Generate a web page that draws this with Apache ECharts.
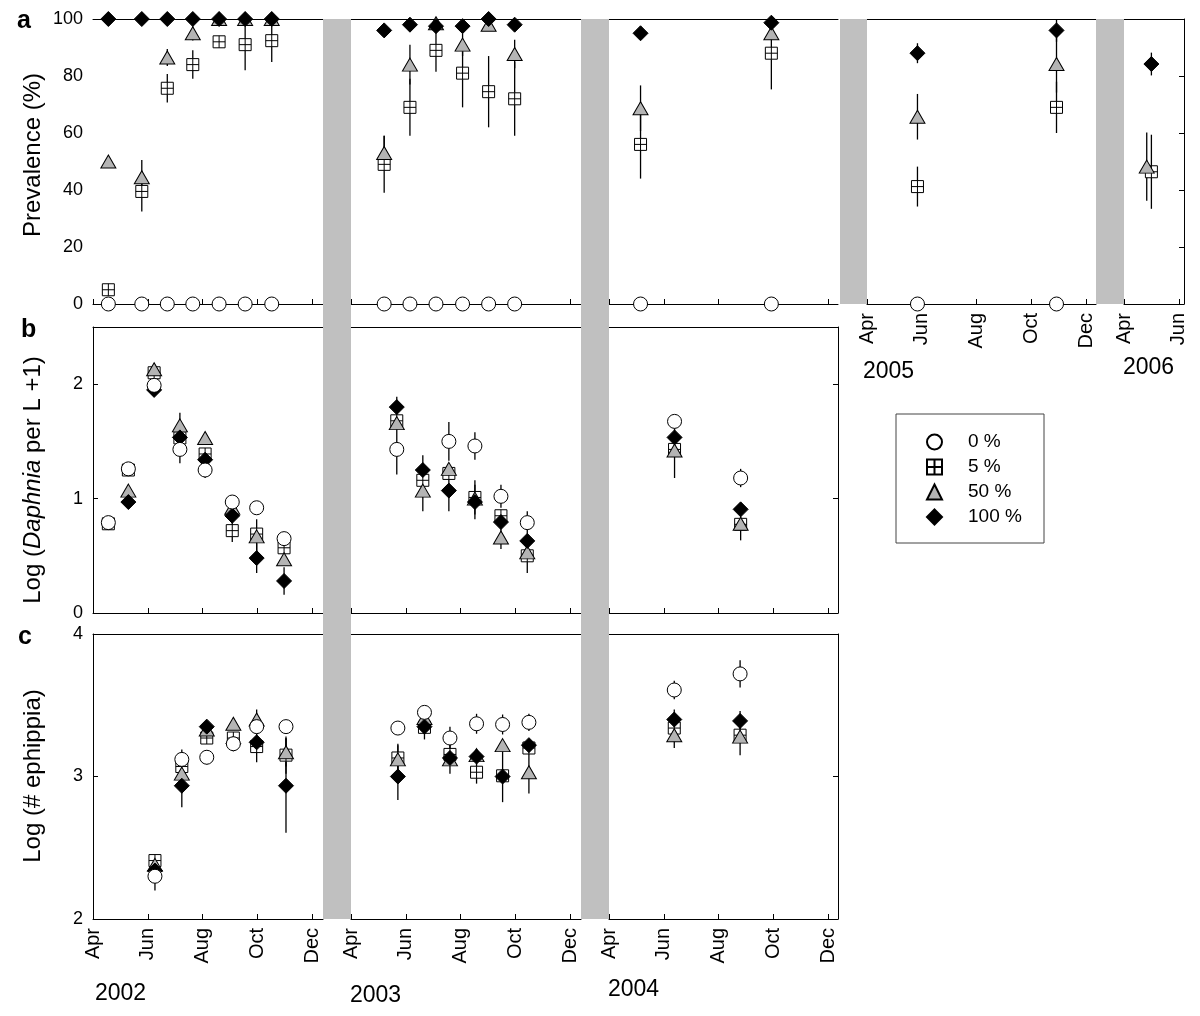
<!DOCTYPE html>
<html><head><meta charset="utf-8">
<script src="https://cdn.jsdelivr.net/npm/echarts@6/dist/echarts.min.js"></script>
<style>html,body{margin:0;padding:0;background:#fff}#c{width:1200px;height:1016px}</style>
</head><body><div id="c"></div>
<script>
const FONT = '"Liberation Sans", Arial, Helvetica, sans-serif';
const treatments = ['0 %', '5 %', '50 %', '100 %'];
const monthTicks = [4, 6, 8, 10, 12];
const monthTicks2006 = [4, 6];
const monthNames = {4: 'Apr', 6: 'Jun', 8: 'Aug', 10: 'Oct', 12: 'Dec'};
const yearLabels = ['2002', '2003', '2004', '2005', '2006'];
const rowTitles = ['Prevalence (%)', 'Log (Daphnia per L +1)', 'Log (# ephippia)'];
const yTicksA = [0, 20, 40, 60, 80, 100];
const yTicksB = [0, 1, 2];
const yTicksC = [2, 3, 4];

// ---------- (a) Prevalence (%) ; x = month number (4 = Apr 1) ----------
const aDates2002 = [4.56, 5.78, 6.71, 7.64, 8.60, 9.55, 10.52];
const aP0_2002   = [0, 0, 0, 0, 0, 0, 0];
const aP5_2002   = [5, 39.5, 75.7, 84, 92, 91, 92.4];
const aE5_2002   = [0, 7, 5, 5, 0, 9, 7.5];
const aP50_2002  = [50, 44.5, 86.5, 95, 100, 100, 100];
const aE50_2002  = [0, 6, 3, 2.5, 0, 0, 0];
const aP100_2002 = [100, 100, 100, 100, 100, 100, 100];

const aDates2003 = [5.21, 6.15, 7.10, 8.07, 9.02, 9.97];
const aP0_2003   = [0, 0, 0, 0, 0, 0];
const aP5_2003   = [49, 69, 89, 81, 74.5, 72];
const aE5_2003   = [10, 10, 7.5, 12, 12.5, 13];
const aP50_2003  = [53, 84, 98.5, 91, 98, 87.7];
const aE50_2003  = [6, 7, 0, 4, 0, 5];
const aP100_2003 = [96, 98, 97.5, 97.5, 100, 98];

const aDates2004 = [5.15, 9.92];
const aP0_2004   = [0, 0];
const aP5_2004   = [56, 88];
const aE5_2004   = [12, 12.7];
const aP50_2004  = [68.7, 95];
const aE50_2004  = [8, 0];
const aP100_2004 = [95, 98.7];

const aDates2005 = [5.84, 10.91];
const aP0_2005   = [0, 0];
const aP5_2005   = [41.2, 69];
const aE5_2005   = [7, 9];
const aP50_2005  = [65.7, 84.2];
const aE50_2005  = [8, 10];
const aP100_2005 = [88, 96];
const aE100_2005 = [3.5, 4];

const aDates2006    = [5.0];
const aDates2006Tri = [4.83];
const aP0_2006   = [null];
const aP5_2006   = [46.4];
const aE5_2006   = [13];
const aP50_2006  = [48.2];
const aE50_2006  = [12];
const aP100_2006 = [84.2];
const aE100_2006 = [4];

// ---------- (b) Log (Daphnia per L + 1) ----------
const bDates2002 = [4.56, 5.29, 6.23, 7.17, 8.09, 9.08, 9.97, 10.97];
const bP0_2002   = [0.79, 1.26, 1.99, 1.43, 1.25, 0.97, 0.92, 0.65];
const bE0_2002   = [0.03, 0, 0, 0.12, 0.07, 0, 0, 0];
const bP5_2002   = [0.78, 1.25, 2.10, 1.53, 1.39, 0.72, 0.69, 0.57];
const bE5_2002   = [0, 0, 0, 0, 0, 0.10, 0, 0.05];
const bP50_2002  = [null, 1.07, 2.13, 1.64, 1.53, 0.92, 0.67, 0.47];
const bE50_2002  = [0, 0, 0, 0.11, 0, 0, 0.15, 0];
const bP100_2002 = [null, 0.97, 1.95, 1.535, 1.34, 0.85, 0.48, 0.28];
const bE100_2002 = [0, 0, 0, 0, 0.05, 0, 0.13, 0.12];

const bDates2003 = [5.67, 6.62, 7.57, 8.52, 9.47, 10.43];
const bP0_2003   = [1.43, null, 1.50, 1.46, 1.02, 0.79];
const bE0_2003   = [0.22, 0, 0.17, 0.12, 0.10, 0.10];
const bP5_2003   = [1.68, 1.16, 1.22, 1.01, 0.85, 0.50];
const bE5_2003   = [0, 0, 0, 0.15, 0, 0.15];
const bP50_2003  = [1.66, 1.07, 1.26, 1.00, 0.66, 0.53];
const bE50_2003  = [0, 0.18, 0, 0, 0.10, 0];
const bP100_2003 = [1.80, 1.25, 1.07, 0.97, 0.795, 0.63];
const bE100_2003 = [0.09, 0.13, 0.18, 0.15, 0, 0];

const bDates2004 = [6.39, 8.80];
const bP0_2004   = [1.675, 1.18];
const bE0_2004   = [0, 0.08];
const bP5_2004   = [1.43, 0.775];
const bE5_2004   = [0.25, 0.14];
const bP50_2004  = [1.42, 0.78];
const bP100_2004 = [1.535, 0.906];

// ---------- (c) Log (# ephippia) ----------
const cDates2002 = [6.26, 7.24, 8.15, 9.12, 9.97, 11.04];
const cP0_2002   = [2.30, 3.12, 3.135, 3.23, 3.35, 3.35];
const cE0_2002   = [0.10, 0.07, 0.05, 0, 0, 0];
const cP5_2002   = [2.41, 3.07, 3.27, 3.27, 3.21, 3.15];
const cE5_2002   = [0, 0, 0, 0, 0, 0.13];
const cP50_2002  = [2.38, 3.02, 3.33, 3.37, 3.40, 3.17];
const cE50_2002  = [0, 0, 0, 0, 0.07, 0.10];
const cP100_2002 = [2.34, 2.935, 3.35, 3.23, 3.24, 2.935];
const cE100_2002 = [0, 0.15, 0, 0.04, 0.14, 0.33];

const cDates2003 = [5.71, 6.68, 7.61, 8.58, 9.53, 10.49];
const cP0_2003   = [3.34, 3.45, 3.27, 3.37, 3.365, 3.38];
const cE0_2003   = [0, 0, 0.08, 0.07, 0.07, 0.06];
const cP5_2003   = [3.13, 3.345, 3.155, 3.03, 3.005, 3.20];
const cE5_2003   = [0.10, 0, 0, 0.08, 0, 0];
const cP50_2003  = [3.12, 3.41, 3.12, 3.15, 3.22, 3.03];
const cE50_2003  = [0.10, 0.08, 0, 0, 0, 0.15];
const cP100_2003 = [3.00, 3.35, 3.13, 3.14, 3.00, 3.22];
const cE100_2003 = [0.165, 0.09, 0.11, 0, 0.18, 0];

const cDates2004 = [6.38, 8.78];
const cP0_2004   = [3.607, 3.72];
const cE0_2004   = [0.065, 0.095];
const cP5_2004   = [3.34, 3.29];
const cE5_2004   = [0, 0.14];
const cP50_2004  = [3.29, 3.28];
const cE50_2004  = [0.09, 0];
const cP100_2004 = [3.40, 3.39];
const cE100_2004 = [0.07, 0.07];

// ---------- layout (not data) ----------
const COLS = [
  {left: 93, width: 230, xMax: 12.39},
  {left: 351, width: 230, xMax: 12.39},
  {left: 609, width: 229, xMax: 12.35},
  {left: 867, width: 229, xMax: 12.35},
  {left: 1124, width: 60, xMax: 6.19}
];
const ROWS = [
  {top: 19, height: 285, min: 0, max: 100, ticks: yTicksA},
  {top: 327, height: 286, min: 0, max: 2.5, ticks: yTicksB},
  {top: 634, height: 285, min: 2, max: 4, ticks: yTicksC}
];

const panels = [
  {row: 0, col: 0, dates: aDates2002, vals: [aP0_2002, aP5_2002, aP50_2002, aP100_2002], errs: [null, aE5_2002, aE50_2002, null], yAxis: 'labels', xLabels: false},
  {row: 0, col: 1, dates: aDates2003, vals: [aP0_2003, aP5_2003, aP50_2003, aP100_2003], errs: [null, aE5_2003, aE50_2003, null], xLabels: false},
  {row: 0, col: 2, dates: aDates2004, vals: [aP0_2004, aP5_2004, aP50_2004, aP100_2004], errs: [null, aE5_2004, aE50_2004, null], xLabels: false},
  {row: 0, col: 3, dates: aDates2005, vals: [aP0_2005, aP5_2005, aP50_2005, aP100_2005], errs: [null, aE5_2005, aE50_2005, aE100_2005], xLabels: true},
  {row: 0, col: 4, dates: aDates2006, triDates: aDates2006Tri, vals: [aP0_2006, aP5_2006, aP50_2006, aP100_2006], errs: [null, aE5_2006, aE50_2006, aE100_2006], yAxis: 'right', rightTicks: [0, 20, 40, 60, 80, 100], xLabels: true, xTicks: monthTicks2006},
  {row: 1, col: 0, dates: bDates2002, vals: [bP0_2002, bP5_2002, bP50_2002, bP100_2002], errs: [bE0_2002, bE5_2002, bE50_2002, bE100_2002], yAxis: 'left', xLabels: false},
  {row: 1, col: 1, dates: bDates2003, vals: [bP0_2003, bP5_2003, bP50_2003, bP100_2003], errs: [bE0_2003, bE5_2003, bE50_2003, bE100_2003], xLabels: false},
  {row: 1, col: 2, dates: bDates2004, vals: [bP0_2004, bP5_2004, bP50_2004, bP100_2004], errs: [bE0_2004, bE5_2004, null, null], yAxis: 'right', rightTicks: [1, 2], xLabels: false},
  {row: 2, col: 0, dates: cDates2002, vals: [cP0_2002, cP5_2002, cP50_2002, cP100_2002], errs: [cE0_2002, cE5_2002, cE50_2002, cE100_2002], yAxis: 'left', xLabels: true},
  {row: 2, col: 1, dates: cDates2003, vals: [cP0_2003, cP5_2003, cP50_2003, cP100_2003], errs: [cE0_2003, cE5_2003, cE50_2003, cE100_2003], xLabels: true},
  {row: 2, col: 2, dates: cDates2004, vals: [cP0_2004, cP5_2004, cP50_2004, cP100_2004], errs: [cE0_2004, cE5_2004, cE50_2004, cE100_2004], yAxis: 'right', rightTicks: [3], xLabels: true}
];

const SYM = [
  {symbol: 'circle', size: 14, color: '#ffffff', z: 6},
  {symbol: 'path://M0,0H20V20H0Z M10,0V20 M0,10H20', size: 12, color: '#ffffff', z: 3},
  {symbol: 'triangle', size: [15, 13], color: '#b4b4b4', z: 4},
  {symbol: 'diamond', size: 15, color: '#000000', z: 5}
];

const LINE = {color: '#000', width: 1};
const grids = [], xAxes = [], yAxes = [], series = [];

function errRender(params, api) {
  const x = api.value(0), y = api.value(1), e = api.value(2);
  const p1 = api.coord([x, y - e]);
  const p2 = api.coord([x, y + e]);
  return {type: 'line', shape: {x1: p1[0], y1: p1[1], x2: p2[0], y2: p2[1]}, style: {stroke: '#000', lineWidth: 1.3}};
}

panels.forEach((p, i) => {
  const C = COLS[p.col], R = ROWS[p.row];
  grids.push({left: C.left, top: R.top, width: C.width, height: R.height, show: false});
  const xt = p.xTicks || monthTicks;
  xAxes.push({
    type: 'value', gridIndex: i, position: 'bottom', min: 4, max: C.xMax,
    axisLine: {show: true, onZero: false, lineStyle: LINE},
    axisTick: {show: true, inside: true, length: 5, customValues: xt, lineStyle: LINE},
    axisLabel: {show: p.xLabels, customValues: xt, rotate: 90, margin: 9, fontSize: 20, fontFamily: FONT, color: '#000',
      formatter: v => monthNames[Math.round(v)] || ''},
    splitLine: {show: false}
  });
  xAxes.push({
    type: 'value', gridIndex: i, position: 'top', min: 4, max: C.xMax,
    axisLine: {show: true, onZero: false, lineStyle: LINE},
    axisTick: {show: false}, axisLabel: {show: false}, splitLine: {show: false}
  });
  const ya = {type: 'value', gridIndex: i, min: R.min, max: R.max, splitLine: {show: false}};
  if (p.yAxis === 'labels') {
    Object.assign(ya, {position: 'left', axisLine: {show: false}, axisTick: {show: false},
      axisLabel: {show: true, customValues: R.ticks, margin: 10, fontSize: 18, fontFamily: FONT, color: '#000'}});
  } else if (p.yAxis === 'left') {
    Object.assign(ya, {position: 'left', axisLine: {show: true, lineStyle: LINE},
      axisTick: {show: true, inside: true, length: 5, customValues: R.ticks, lineStyle: LINE},
      axisLabel: {show: true, customValues: R.ticks, margin: 10, fontSize: 18, fontFamily: FONT, color: '#000'}});
  } else if (p.yAxis === 'right') {
    Object.assign(ya, {position: 'right', axisLine: {show: true, lineStyle: LINE},
      axisTick: {show: true, inside: true, length: 5, customValues: p.rightTicks, lineStyle: LINE},
      axisLabel: {show: false}});
  } else {
    Object.assign(ya, {axisLine: {show: false}, axisTick: {show: false}, axisLabel: {show: false}});
  }
  yAxes.push(ya);

  const xIdx = 2 * i;
  p.vals.forEach((vals, k) => {
    const dates = (k === 2 && p.triDates) ? p.triDates : p.dates;
    const pts = [];
    const ebs = [];
    vals.forEach((v, j) => {
      if (v === null || v === undefined) return;
      pts.push([dates[j], v]);
      const e = p.errs[k] ? p.errs[k][j] : 0;
      if (e > 0) ebs.push([dates[j], v, e]);
    });
    if (ebs.length) {
      series.push({type: 'custom', xAxisIndex: xIdx, yAxisIndex: i, renderItem: errRender,
        data: ebs, encode: {x: 0, y: 1}, z: 2, silent: true, clip: true});
    }
    const s = SYM[k];
    series.push({type: 'scatter', name: treatments[k], xAxisIndex: xIdx, yAxisIndex: i,
      symbol: s.symbol, symbolSize: s.size, z: s.z,
      itemStyle: {color: s.color, borderColor: '#000', borderWidth: 1, opacity: 1},
      emphasis: {disabled: true}, data: pts});
  });
});

const grayRects = [
  {x: 323, y: 19, w: 28, h: 900},
  {x: 581, y: 19, w: 28, h: 900},
  {x: 840, y: 19, w: 27, h: 285},
  {x: 1096, y: 19, w: 28, h: 285}
];

const graphic = [];
grayRects.forEach(r => graphic.push({type: 'rect', shape: {x: r.x, y: r.y, width: r.w, height: r.h}, style: {fill: '#c0c0c0'}, z: 50, silent: true}));
graphic.push({type: 'rect', shape: {x: 896, y: 414, width: 148, height: 129}, style: {fill: '#fff', stroke: '#444', lineWidth: 1}, z: 1, silent: true});

const yearPos = [[95, 994], [350, 996], [608, 990], [863, 372], [1123, 368]];
yearLabels.forEach((t, i) => graphic.push({type: 'text', x: yearPos[i][0], y: yearPos[i][1], z: 60,
  style: {text: t, fontSize: 23, fontFamily: FONT, fill: '#000', align: 'left', verticalAlign: 'middle'}}));

const letters = [['a', 17, 21], ['b', 21, 330], ['c', 18, 637]];
letters.forEach(l => graphic.push({type: 'text', x: l[1], y: l[2], z: 60,
  style: {text: l[0], fontSize: 25, fontWeight: 'bold', fontFamily: FONT, fill: '#000', align: 'left', verticalAlign: 'middle'}}));

const titlePos = [[33, 155], [33, 480], [33, 776]];
graphic.push({type: 'text', x: titlePos[0][0], y: titlePos[0][1], rotation: Math.PI / 2, z: 60,
  style: {text: rowTitles[0], fontSize: 24, fontFamily: FONT, fill: '#000', align: 'center', verticalAlign: 'middle'}});
graphic.push({type: 'text', x: titlePos[1][0], y: titlePos[1][1], rotation: Math.PI / 2, z: 60,
  style: {text: '{n|Log (}{i|Daphnia}{n| per L +1)}', fill: '#000', align: 'center', verticalAlign: 'middle',
    rich: {n: {fontSize: 24, fontFamily: FONT, fill: '#000'}, i: {fontSize: 24, fontFamily: FONT, fontStyle: 'italic', fill: '#000'}}}});
graphic.push({type: 'text', x: titlePos[2][0], y: titlePos[2][1], rotation: Math.PI / 2, z: 60,
  style: {text: rowTitles[2], fontSize: 24, fontFamily: FONT, fill: '#000', align: 'center', verticalAlign: 'middle'}});

const chart = echarts.init(document.getElementById('c'));
chart.setOption({
  animation: false,
  backgroundColor: '#ffffff',
  grid: grids,
  xAxis: xAxes,
  yAxis: yAxes,
  legend: {
    data: treatments, orient: 'vertical', left: 926, top: 432, padding: 0,
    itemWidth: 15, itemHeight: 15, itemGap: 5, selectedMode: false,
    textStyle: {fontSize: 19, fontFamily: FONT, color: '#000', lineHeight: 20, padding: [0, 0, 0, 21]}
  },
  graphic: graphic,
  series: series
});
</script></body></html>
